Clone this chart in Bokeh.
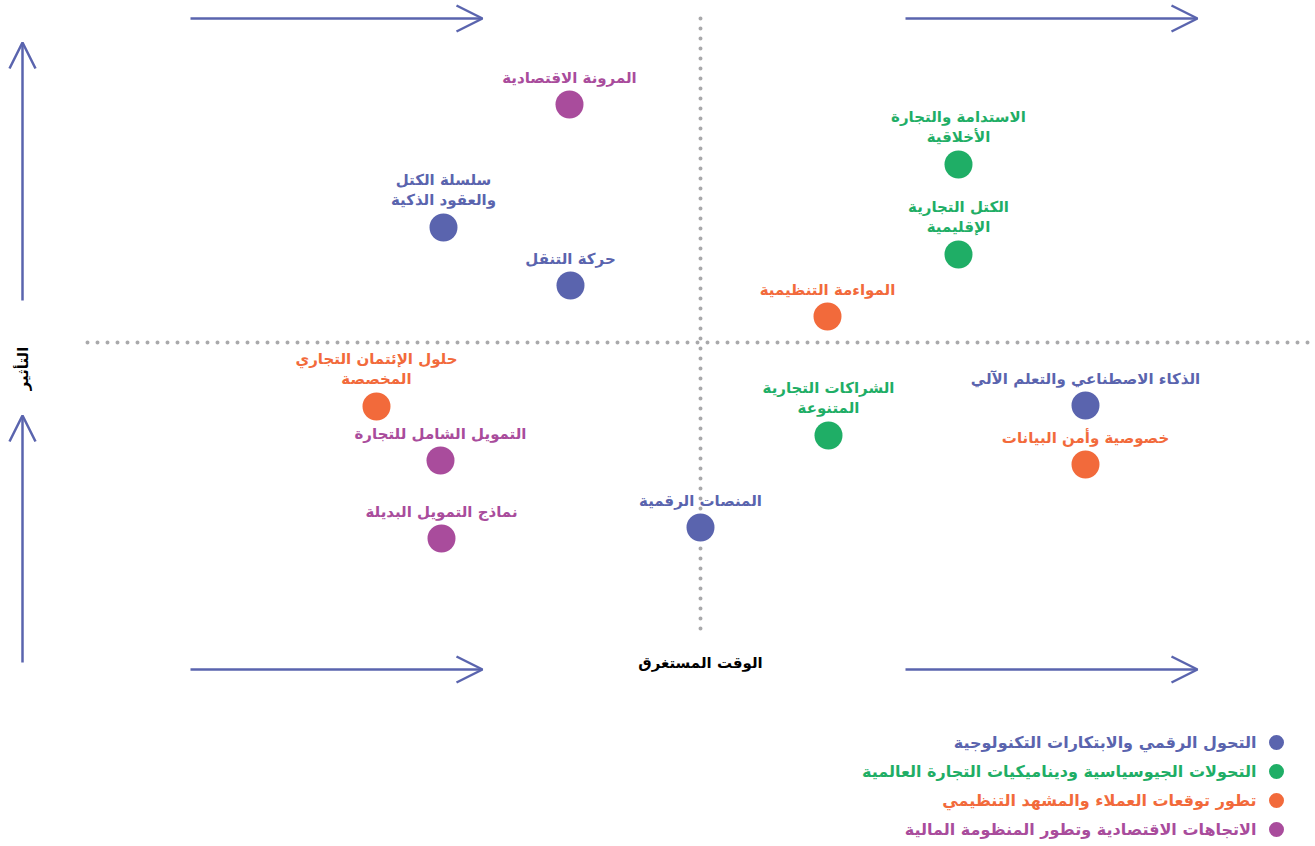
from bokeh.plotting import figure
from bokeh.models import Range1d, Arrow, OpenHead, ColumnDataSource
from bokeh.core.properties import value
from bokeh.embed import file_html
from bokeh.resources import INLINE
import math

# ---------------- data ----------------
group_names = [
    "التحول الرقمي والابتكارات التكنولوجية",
    "التحولات الجيوسياسية وديناميكيات التجارة العالمية",
    "تطور توقعات العملاء والمشهد التنظيمي",
    "الاتجاهات الاقتصادية وتطور المنظومة المالية",
]
group_colors = ["#5a64ae", "#1fae66", "#f26a3b", "#a94c9c"]

labels = [
    "المرونة الاقتصادية",
    "سلسلة الكتل\nوالعقود الذكية",
    "حركة التنقل",
    "الاستدامة والتجارة\nالأخلاقية",
    "الكتل التجارية\nالإقليمية",
    "المواءمة التنظيمية",
    "حلول الإئتمان التجاري\nالمخصصة",
    "التمويل الشامل للتجارة",
    "نماذج التمويل البديلة",
    "المنصات الرقمية",
    "الشراكات التجارية\nالمتنوعة",
    "الذكاء الاصطناعي والتعلم الآلي",
    "خصوصية وأمن البيانات",
]
time_vals = [3.69, 2.43, 3.70, 7.58, 7.58, 6.27, 1.76, 2.40, 2.41, 5.00, 6.28, 8.85, 8.85]
impact_vals = [7.38, 6.15, 5.57, 6.78, 5.88, 5.26, 4.36, 3.82, 3.04, 3.15, 4.07, 4.37, 3.78]
groups = [3, 0, 0, 1, 1, 2, 2, 3, 3, 0, 1, 0, 2]

x_title = "الوقت المستغرق"
y_title = "التأثير"

# ---------------- frame ----------------
W, H = 1315, 846
X0 = 5 - 700 / 100.0
X1 = X0 + W / 100.0
Y1 = 5 + 342 / 100.0
Y0 = Y1 - H / 100.0


def px(fx):
    return X0 + fx / 100.0


def py(fy):
    return Y1 - fy / 100.0


FONT = value("DejaVu Sans")

p = figure(width=W, height=H, x_range=Range1d(X0, X1), y_range=Range1d(Y0, Y1),
           output_backend="svg", toolbar_location=None, min_border=0)
p.axis.visible = False
p.grid.visible = False
p.outline_line_color = None
p.background_fill_color = "white"
p.border_fill_color = "white"

# dotted dividers
dot = dict(line_color="#a9a9ab", line_width=4, line_dash="0 10", line_cap="round")
p.line([5, 5], [py(18), py(636)], **dot)
p.line([px(87), px(1315)], [5, 5], **dot)

# arrows
arrow_color = "#5a64ae"
arrow_specs = [
    ((190, 18), (482, 18)),
    ((905, 18), (1197, 18)),
    ((190, 669), (482, 669)),
    ((905, 669), (1197, 669)),
    ((22, 300), (22, 42)),
    ((22, 662), (22, 415)),
]
for (sx, sy), (ex, ey) in arrow_specs:
    p.add_layout(Arrow(end=OpenHead(size=26, line_color=arrow_color, line_width=2.5),
                       x_start=px(sx), y_start=py(sy), x_end=px(ex), y_end=py(ey),
                       line_color=arrow_color, line_width=2.5))

# points
src = ColumnDataSource(dict(
    x=time_vals, y=impact_vals, label=labels,
    color=[group_colors[g] for g in groups],
))
p.scatter("x", "y", source=src, size=28, fill_color="color", line_color=None)
p.text("x", "y", text="label", source=src, text_color="color", text_font=FONT,
       text_font_size="15px", text_font_style="bold", text_align="center",
       text_baseline="bottom", y_offset=-18, text_line_height=1.15)

# axis titles
p.text([5], [py(662)], text=[x_title], text_font=FONT, text_font_size="15px",
       text_font_style="bold", text_color="black", text_align="center",
       text_baseline="middle")
p.text([px(22)], [py(368)], text=[y_title], angle=math.pi / 2, text_font=FONT,
       text_font_size="15px", text_font_style="bold", text_color="black",
       text_align="center", text_baseline="middle")

# legend (right-to-left)
leg_y = [py(742 + 29 * i) for i in range(len(group_names))]
p.scatter([px(1276)] * len(group_names), leg_y, size=15, fill_color=group_colors,
          line_color=None)
p.text([px(1256)] * len(group_names), leg_y, text=group_names, text_color=group_colors,
       text_font=FONT, text_font_size="16px", text_font_style="bold",
       text_align="right", text_baseline="middle")

open("out.html", "w").write(file_html(p, INLINE))
